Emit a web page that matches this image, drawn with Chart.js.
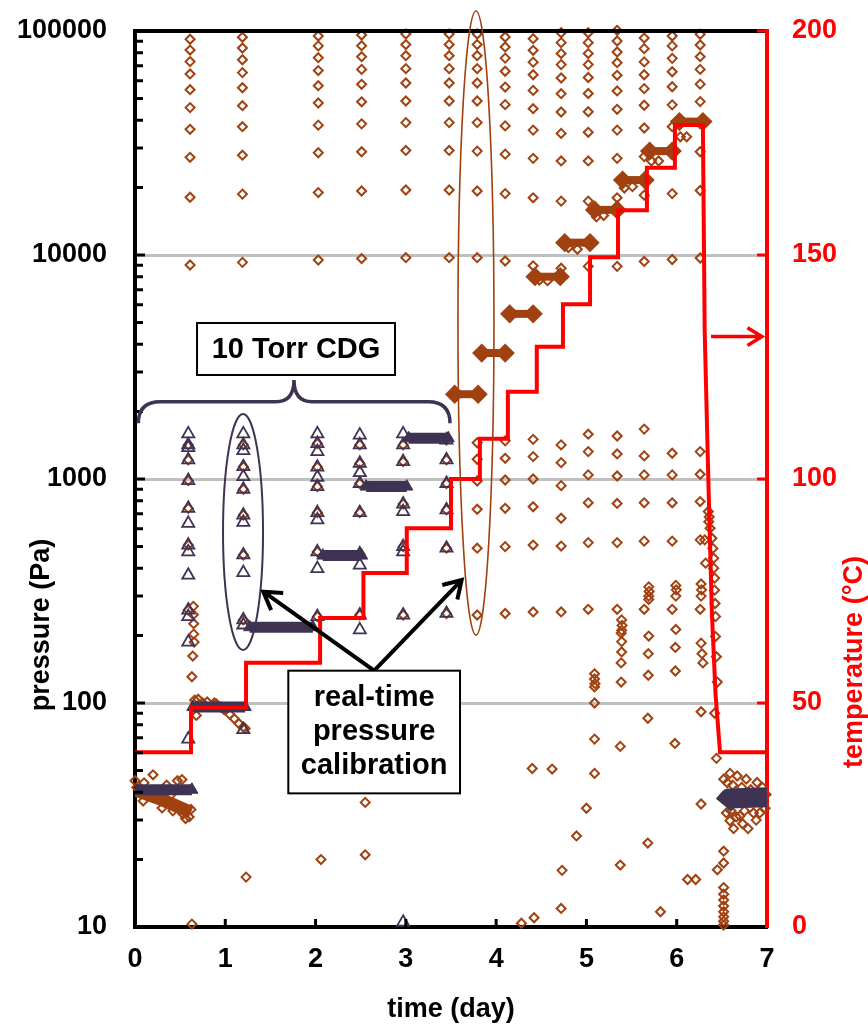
<!DOCTYPE html>
<html>
<head>
<meta charset="utf-8">
<script src="https://cdn.jsdelivr.net/npm/chart.js@4.4.0/dist/chart.umd.min.js"></script>
<style>
    body { margin: 0; background: #fff; }
</style>
</head>
<body>
<canvas id="chartPressure" width="868" height="1025"></canvas>
<script>
// ============= data (time in days, pressure in Pa, temperature in °C) =============

var yTickValues = [10, 100, 1000, 10000, 100000];
var xTickValues = [0, 1, 2, 3, 4, 5, 6, 7];
var tempTickValues = [0, 50, 100, 150, 200];

// temperature programme, corners of the red step line
var tempDays = [0, 0.62, 0.62, 1.23, 1.23, 2.05, 2.05, 2.53, 2.53, 3.01, 3.01, 3.50, 3.50, 3.82, 3.82, 4.13, 4.13, 4.45, 4.45, 4.74, 4.74, 5.04, 5.04, 5.35, 5.35, 5.67, 5.67, 5.98, 5.98, 6.29, 6.31, 6.35, 6.39, 6.43, 6.48, 7.0];
var tempC = [39, 39, 49, 49, 59, 59, 69, 69, 79, 79, 89, 89, 100, 100, 109, 109, 119.5, 119.5, 129.5, 129.5, 139, 139, 149.5, 149.5, 160, 160, 169.5, 169.5, 179, 179, 133, 100, 70, 52, 39, 39];

// high range calibration columns (brown diamonds)
var hiDays = [0.61, 1.19, 2.03, 2.51, 3.00, 3.48, 3.79, 4.10, 4.41, 4.72, 5.02, 5.34, 5.64, 5.95, 6.26];
var hiP = [
    [91900, 82200, 73000, 64300, 54700, 45500, 36400, 27300, 18100, 9020],
    [93700, 84000, 74400, 65200, 55800, 46400, 37400, 27900, 18700, 9270],
    [95000, 85800, 76000, 66600, 57000, 47700, 38000, 28600, 19000, 9500],
    [96000, 86000, 76800, 67400, 57800, 48300, 38500, 28900, 19300, 9640],
    [97000, 87000, 77600, 67900, 58600, 48700, 39000, 29300, 19500, 9730],
    [97000, 87000, 77600, 67900, 58600, 48700, 39000, 29300, 19500, 9730],
    [97000, 87000, 77600, 67900, 58600, 48700, 39000, 29100, 19300, 9730],
    [94000, 84900, 75700, 66100, 56200, 46900, 37700, 28200, 18800, 9400],
    [92400, 82000, 72600, 63800, 54300, 45000, 36100, 27000, 18000, 8950],
    [98200, 88700, 79300, 70800, 61700, 52500, 43500, 34900, 26300, 17400, 8730],
    [98200, 88700, 79300, 70800, 62000, 52600, 43600, 35300, 26300, 17400, 8900],
    [100700, 90200, 80600, 72200, 63400, 54000, 44700, 36100, 27000, 18000, 8900],
    [93000, 83400, 72800, 63800, 55300, 46600, 36900, 27500, 18500, 9360],
    [95000, 85800, 75500, 65800, 56400, 46800, 37400, 28300, 18800, 9550],
    [96700, 86600, 76800, 67400, 57900, 48400, 38600, 28900, 19400, 9700]
];

// low range calibration columns (brown diamonds)
var loDays = [0.59, 1.20, 2.02, 2.49, 2.97, 3.45, 3.79, 4.10, 4.41, 4.72, 5.02, 5.34, 5.64, 5.95, 6.26];
var loP = [
    [1420, 1217, 984, 740, 507, 260],
    [1420, 1135, 900, 690, 458, 235],
    [1440, 1130, 925, 708, 473, 243],
    [1420, 1175, 955, 708, 463, 247],
    [1420, 1195, 773, 499, 247],
    [1493, 1217, 955, 728, 491, 251],
    [1452, 1225, 980, 733, 491, 247],
    [1480, 1237, 990, 740, 499, 251],
    [1503, 1259, 1000, 752, 507, 255],
    [1420, 1183, 934, 668, 502, 255],
    [1585, 1325, 1043, 783, 520, 262],
    [1556, 1294, 1031, 778, 520, 262],
    [1670, 1268, 1043, 783, 528, 262],
    [1303, 1043, 783, 528, 262],
    [1325, 1050, 793, 535, 262]
];

// 10 Torr CDG calibration columns (triangles)
var triDays = [0.59, 1.20, 2.02, 2.49, 2.97, 3.45];
var triP = [
    [1590, 1420, 1380, 1217, 984, 740, 634, 507, 473, 372, 260, 243, 187, 69],
    [1590, 1420, 1340, 1135, 1024, 900, 690, 640, 458, 382, 235, 223, 76],
    [1590, 1440, 1325, 1130, 1018, 925, 708, 657, 473, 398, 243],
    [1570, 1420, 1175, 1067, 955, 708, 463, 413, 247, 212],
    [1590, 1420, 1195, 773, 715, 499, 473, 247, 10.5],
    [1493, 1217, 955, 728, 491, 251]
];

// 10 Torr CDG steady readings (dense triangles)
var cdgStart = [0.0, 0.64, 1.27, 2.08, 2.56, 3.03];
var cdgEnd = [0.63, 1.22, 1.97, 2.51, 3.01, 3.47];
var cdgP = [41, 96, 218, 455, 925, 1520];
var cdgEndDays = [6.52, 6.58, 7.0];
var cdgEndP = [35, 37.5, 38];

// capacitance gauge steady readings (dense diamonds)
var plateauStart = [3.54, 3.84, 4.15, 4.43, 4.76, 5.09, 5.40, 5.70, 6.03];
var plateauEnd = [3.80, 4.10, 4.41, 4.71, 5.04, 5.34, 5.65, 5.95, 6.29];
var plateauP = [2390, 3650, 5460, 8000, 11350, 15900, 21600, 29100, 39400];
var startBandDays = [0, 0.3, 0.62];
var startBandP = [41, 37, 32.5];

// scattered diamonds [day, Pa]
var startCluster = [[0.0, 45], [0.02, 42], [0.1, 44], [0.2, 47.8], [0.09, 36.5], [0.3, 34], [0.42, 33], [0.47, 45], [0.5, 34], [0.52, 45.5], [0.56, 30.5], [0.53, 32], [0.35, 43], [0.4, 39], [0.15, 40], [0.25, 38], [0.6, 31], [0.62, 33.5]];
var firstStep = [[0.646, 270], [0.646, 248], [0.65, 226], [0.65, 203], [0.655, 187], [0.64, 162], [0.63, 131], [0.63, 10.3]];
var warmDrift = [[0.66, 103], [0.7, 104], [0.75, 100], [0.8, 101], [0.88, 100], [0.9, 99], [0.95, 96], [0.98, 94], [1.0, 93], [1.05, 89], [1.1, 85], [1.15, 81], [1.2, 78], [1.22, 77], [0.68, 88]];
var loneLow = [[1.23, 16.7], [2.06, 20], [2.55, 21], [2.55, 36], [4.40, 51], [4.62, 50.7]];
var plateauDips = [[4.48, 7730], [4.57, 7680], [4.80, 10800], [4.90, 10600], [5.11, 14800], [5.19, 15000], [5.42, 19900], [5.51, 20200], [5.72, 26300], [5.80, 26300], [6.04, 33700], [6.11, 33700]];
var pumpStrings = [
    [5.09, 135], [5.09, 128], [5.095, 122], [5.09, 118], [5.09, 100], [5.09, 69], [5.09, 48.5], [5.0, 33.9], [4.89, 25.5], [4.73, 17.9], [4.72, 12.1], [4.42, 11], [4.28, 10.4],
    [5.39, 235], [5.395, 222], [5.39, 211], [5.385, 205], [5.39, 188], [5.39, 169], [5.385, 151], [5.385, 124], [5.375, 64], [5.375, 18.9],
    [5.69, 330], [5.695, 315], [5.69, 300], [5.69, 290], [5.69, 199], [5.685, 166], [5.685, 133], [5.68, 85.5], [5.68, 23.7],
    [5.99, 335], [5.995, 320], [5.99, 300], [5.99, 213], [5.985, 177], [5.985, 139], [5.98, 66], [5.82, 11.7],
    [6.27, 340], [6.275, 320], [6.27, 300], [6.27, 185], [6.28, 166], [6.29, 151], [6.27, 91.4], [6.27, 35.4], [6.12, 16.3], [6.21, 16.3]
];
var dropString = [[6.35, 716], [6.36, 677], [6.355, 645], [6.37, 603], [6.39, 544], [6.40, 490], [6.41, 443], [6.41, 400], [6.42, 361], [6.42, 319], [6.425, 278], [6.43, 243], [6.43, 198], [6.44, 161], [6.45, 124], [6.42, 90], [6.44, 56.6], [6.31, 535], [6.32, 421], [6.45, 18], [6.52, 21.8], [6.52, 19.3], [6.52, 15], [6.52, 14], [6.52, 13.2], [6.52, 12.4], [6.52, 11.7], [6.52, 11.1], [6.52, 10.6], [6.52, 10.2]];
var coolCluster = [[6.52, 45.7], [6.59, 48.5], [6.63, 27.5], [6.79, 27.5], [6.70, 31.3], [6.85, 32.3], [6.92, 32.3], [6.98, 33.9], [6.55, 32.3], [6.77, 45.7], [6.89, 44.2], [6.67, 47.2], [6.99, 39], [6.59, 29.8], [6.73, 28.9], [6.56, 44], [6.62, 43], [6.72, 42], [6.82, 41], [6.95, 42], [6.6, 33], [6.66, 31], [6.75, 33], [6.88, 30], [6.54, 38]];

// =============chart=============

var PURPLE = "#3f3354";
var BROWN = "#a0410f";
var RED = "#ff0000";
var FONT = "'Liberation Sans', Arial, sans-serif";

function columnPoints(days, values) {
    var pts = [];
    days.forEach(function (d, i) {
        values[i].forEach(function (p) {
            pts.push({ x: d, y: p });
        });
    });
    return pts;
}

function pairPoints(xs, ys) {
    return xs.map(function (x, i) {
        return { x: x, y: ys[i] };
    });
}

function listPoints(list) {
    return list.map(function (p) {
        return { x: p[0], y: p[1] };
    });
}

var datasets = [];

datasets.push({
    type: "line",
    data: pairPoints(tempDays, tempC),
    yAxisID: "yT",
    borderColor: RED,
    borderWidth: 4,
    pointRadius: 0,
    tension: 0,
    borderJoinStyle: "miter",
});

cdgStart.forEach(function (s, i) {
    datasets.push({
        type: "line",
        data: [{ x: s, y: cdgP[i] }, { x: cdgEnd[i], y: cdgP[i] }],
        borderColor: PURPLE,
        borderWidth: 11,
        pointStyle: "triangle",
        pointRadius: 7,
        pointBackgroundColor: PURPLE,
        pointBorderColor: PURPLE,
        pointBorderWidth: 1,
    });
});

datasets.push({
    type: "line",
    data: pairPoints(cdgEndDays, cdgEndP),
    borderColor: PURPLE,
    borderWidth: 20,
    pointRadius: 0,
    tension: 0,
    borderJoinStyle: "round",
});

datasets.push({
    type: "scatter",
    data: columnPoints(triDays, triP),
    pointStyle: "triangle",
    pointRadius: 7,
    borderColor: PURPLE,
    borderWidth: 1.8,
    backgroundColor: "rgba(255,255,255,0)",
});

plateauStart.forEach(function (s, i) {
    datasets.push({
        type: "line",
        data: [{ x: s, y: plateauP[i] }, { x: plateauEnd[i], y: plateauP[i] }],
        borderColor: BROWN,
        borderWidth: 8,
        pointStyle: "rectRot",
        pointRadius: 4,
        pointBackgroundColor: BROWN,
        pointBorderColor: BROWN,
    });
});

datasets.push({
    type: "line",
    data: pairPoints(startBandDays, startBandP),
    borderColor: BROWN,
    borderWidth: 13,
    pointRadius: 0,
    tension: 0,
});

var scattered = [].concat(startCluster, firstStep, warmDrift, loneLow, plateauDips, pumpStrings, dropString, coolCluster);

datasets.push({
    type: "scatter",
    data: columnPoints(hiDays, hiP).concat(columnPoints(loDays, loP), listPoints(scattered)),
    pointStyle: "rectRot",
    pointRadius: 4.5,
    borderColor: BROWN,
    borderWidth: 2,
    backgroundColor: "rgba(255,255,255,0)",
    clip: 8,
});

// =============annotations, inner ticks, axis titles=============

function arrow(ctx, x0, y0, x1, y1, wing) {
    var a = Math.atan2(y1 - y0, x1 - x0);
    ctx.beginPath();
    ctx.moveTo(x0, y0);
    ctx.lineTo(x1, y1);
    ctx.moveTo(x1 - wing * Math.cos(a - 0.55), y1 - wing * Math.sin(a - 0.55));
    ctx.lineTo(x1, y1);
    ctx.lineTo(x1 - wing * Math.cos(a + 0.55), y1 - wing * Math.sin(a + 0.55));
    ctx.stroke();
}

function verticalText(ctx, text, x, y, color) {
    ctx.save();
    ctx.fillStyle = color;
    ctx.font = "bold 27px " + FONT;
    ctx.textAlign = "center";
    ctx.textBaseline = "middle";
    ctx.translate(x, y);
    ctx.rotate(-Math.PI / 2);
    ctx.fillText(text, 0, 0);
    ctx.restore();
}

// vertical axes keep their tick padding out of the top/bottom layout padding
function fixVerticalAxis(width) {
    return function (s) {
        s.width = width;
        s.paddingTop = 8;
        s.paddingBottom = 8;
    };
}

var overlay = {
    id: "overlay",
    afterDraw: function (chart) {
        var ctx = chart.ctx;
        var a = chart.chartArea;
        var sx = chart.scales.x, sy = chart.scales.y, st = chart.scales.yT;
        var px = function (d) { return sx.getPixelForValue(d); };
        var py = function (p) { return sy.getPixelForValue(p); };
        var pt = function (c) { return st.getPixelForValue(c); };

        ctx.save();
        ctx.lineCap = "butt";

        // top frame
        ctx.strokeStyle = "#000";
        ctx.lineWidth = 4;
        ctx.beginPath();
        ctx.moveTo(a.left - 2, a.top);
        ctx.lineTo(a.right - 2, a.top);
        ctx.stroke();

        // minor ticks, left axis (inside)
        ctx.lineWidth = 3;
        ctx.beginPath();
        [10, 100, 1000, 10000].forEach(function (dec) {
            for (var m = 2; m <= 9; m++) {
                var yy = py(m * dec);
                ctx.moveTo(a.left, yy);
                ctx.lineTo(a.left + 8, yy);
            }
        });
        [100, 1000, 10000].forEach(function (v) {
            ctx.moveTo(a.left, py(v));
            ctx.lineTo(a.left + 10, py(v));
        });
        // x ticks (inside)
        [1, 2, 3, 4, 5, 6].forEach(function (d) {
            ctx.moveTo(px(d), a.bottom);
            ctx.lineTo(px(d), a.bottom - 8);
        });
        ctx.stroke();

        // right axis ticks
        ctx.strokeStyle = RED;
        ctx.beginPath();
        [50, 100, 150, 200].forEach(function (c) {
            ctx.moveTo(a.right, pt(c));
            ctx.lineTo(a.right - 10, pt(c));
        });
        ctx.stroke();

        // axis titles
        verticalText(ctx, "pressure (Pa)", 42, 625, "#000");
        verticalText(ctx, "temperature (°C)", 855, 662, RED);

        // red arrow towards temperature axis
        ctx.strokeStyle = RED;
        ctx.lineWidth = 3.5;
        arrow(ctx, px(6.38), pt(131.8), px(6.944), pt(131.8), 17);

        // brace over the 10 Torr CDG range
        var bx0 = px(0.037), bxc = px(1.761), bx1 = px(3.489);
        var byb = py(1774), bym = py(2213), byt = py(2767);
        ctx.strokeStyle = PURPLE;
        ctx.lineWidth = 3.5;
        ctx.beginPath();
        ctx.moveTo(bx0, byb);
        ctx.quadraticCurveTo(bx0, bym, bx0 + 22, bym);
        ctx.lineTo(bxc - 18, bym);
        ctx.quadraticCurveTo(bxc, bym, bxc, byt);
        ctx.quadraticCurveTo(bxc, bym, bxc + 18, bym);
        ctx.lineTo(bx1 - 22, bym);
        ctx.quadraticCurveTo(bx1, bym, bx1, byb);
        ctx.stroke();

        // purple ellipse
        var el = { l: px(0.975), r: px(1.418), t: py(1950), b: py(172.5) };
        ctx.lineWidth = 2;
        ctx.beginPath();
        ctx.ellipse((el.l + el.r) / 2, (el.t + el.b) / 2, (el.r - el.l) / 2, (el.b - el.t) / 2, 0, 0, 2 * Math.PI);
        ctx.stroke();

        // brown ellipse
        var eb = { l: px(3.577), r: px(3.976), t: py(122800), b: py(201) };
        ctx.strokeStyle = BROWN;
        ctx.lineWidth = 1.6;
        ctx.beginPath();
        ctx.ellipse((eb.l + eb.r) / 2, (eb.t + eb.b) / 2, (eb.r - eb.l) / 2, (eb.b - eb.t) / 2, 0, 0, 2 * Math.PI);
        ctx.stroke();

        // "10 Torr CDG" box
        var b1 = { l: px(0.687), r: px(2.880), t: py(4970), b: py(2913) };
        ctx.fillStyle = "#fff";
        ctx.fillRect(b1.l, b1.t, b1.r - b1.l, b1.b - b1.t);
        ctx.strokeStyle = "#000";
        ctx.lineWidth = 2;
        ctx.strokeRect(b1.l, b1.t, b1.r - b1.l, b1.b - b1.t);
        ctx.fillStyle = "#000";
        ctx.font = "bold 29px " + FONT;
        ctx.textAlign = "center";
        ctx.textBaseline = "middle";
        ctx.fillText("10 Torr CDG", (b1.l + b1.r) / 2, (b1.t + b1.b) / 2 + 1);

        // arrows to the calibration columns
        var b2 = { l: px(1.698), r: px(3.600), t: py(139.4), b: py(39.5) };
        var baseX = (b2.l + b2.r) / 2;
        ctx.lineWidth = 4;
        arrow(ctx, baseX, b2.t, px(1.421), py(314), 20);
        arrow(ctx, baseX, b2.t, px(3.618), py(354), 20);

        // "real-time pressure calibration" box
        ctx.fillStyle = "#fff";
        ctx.fillRect(b2.l, b2.t, b2.r - b2.l, b2.b - b2.t);
        ctx.lineWidth = 2;
        ctx.strokeRect(b2.l, b2.t, b2.r - b2.l, b2.b - b2.t);
        ctx.fillStyle = "#000";
        var cy = (b2.t + b2.b) / 2;
        ctx.fillText("real-time", baseX, cy - 34);
        ctx.fillText("pressure", baseX, cy);
        ctx.fillText("calibration", baseX, cy + 34);

        ctx.restore();
    },
};

new Chart(document.getElementById("chartPressure"), {
    type: "scatter",
    data: { datasets: datasets },
    plugins: [overlay],
    options: {
        responsive: false,
        animation: false,
        events: [],
        layout: { padding: { top: 31, left: 0, right: 0, bottom: 0 } },
        plugins: {
            legend: { display: false },
            tooltip: { enabled: false },
        },
        scales: {
            x: {
                type: "linear",
                min: 0,
                max: 7,
                afterBuildTicks: function (s) {
                    s.ticks = xTickValues.map(function (v) { return { value: v }; });
                },
                ticks: {
                    color: "#000",
                    font: { family: FONT, size: 27, weight: "bold" },
                    padding: 16,
                    autoSkip: false,
                    maxRotation: 0,
                },
                grid: { display: false, drawTicks: false },
                border: { display: true, color: "#000", width: 4 },
                title: {
                    display: true,
                    text: "time (day)",
                    color: "#000",
                    font: { family: FONT, size: 27, weight: "bold", lineHeight: 1 },
                    padding: { top: 0, bottom: 2 },
                },
                afterFit: function (s) { s.height = 98; },
            },
            y: {
                type: "logarithmic",
                position: "left",
                min: 10,
                max: 100000,
                afterBuildTicks: function (s) {
                    s.ticks = yTickValues.map(function (v) { return { value: v }; });
                },
                ticks: {
                    color: "#000",
                    font: { family: FONT, size: 27, weight: "bold" },
                    padding: 28,
                    autoSkip: false,
                    callback: function (v) { return String(v); },
                },
                grid: {
                    drawTicks: false,
                    lineWidth: 3,
                    color: function (c) {
                        var v = c.tick && c.tick.value;
                        return v === 100 || v === 1000 || v === 10000 ? "#c0c0c0" : "rgba(0,0,0,0)";
                    },
                },
                border: { display: true, color: "#000", width: 4 },
                afterFit: fixVerticalAxis(135),
            },
            yT: {
                type: "linear",
                position: "right",
                min: 0,
                max: 200,
                afterBuildTicks: function (s) {
                    s.ticks = tempTickValues.map(function (v) { return { value: v }; });
                },
                ticks: {
                    color: RED,
                    font: { family: FONT, size: 27, weight: "bold" },
                    padding: 25,
                    autoSkip: false,
                },
                grid: { display: false, drawTicks: false },
                border: { display: true, color: RED, width: 4 },
                afterFit: fixVerticalAxis(101),
            },
        },
    },
});
</script>
</body>
</html>
